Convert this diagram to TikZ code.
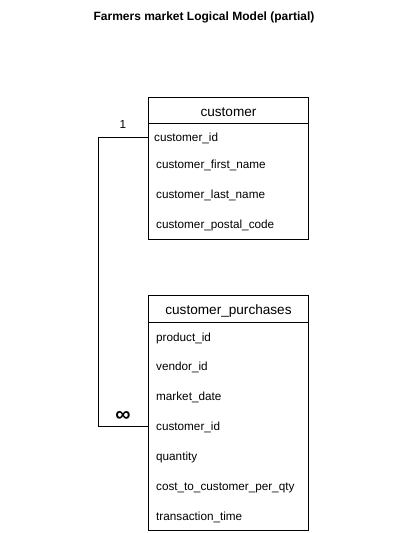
\documentclass[tikz,border=0pt]{standalone}
\usepackage{fontspec}
\setmainfont{Liberation Sans}

\begin{document}
\begin{tikzpicture}[x=0.75pt, y=-0.75pt, line width=0.75pt,
  tbl/.style={draw, anchor=north west, minimum width=120pt, inner sep=0pt},
  header/.style={anchor=north west, minimum width=120pt, minimum height=#1, inner sep=0pt, yshift=-1.2pt, font=\fontsize{10.2}{12}\selectfont},
  field/.style={anchor=west, text width=108.5pt, inner xsep=5.75pt, inner ysep=2pt, text height=8.2pt, text depth=1.3pt, align=left, font=\fontsize{8.8}{10}\selectfont},
  card/.style={font=\fontsize{8.8}{10}\selectfont}]

\useasboundingbox (0,0) rectangle (407,533);

% Title
\node [font=\bfseries\fontsize{9}{11}\selectfont] (title) at (204,17) {Farmers market Logical Model (partial)};

% Table customer
\node [tbl, minimum height=106.5pt] (customer) at (148,97) {};
\node [header=19.5pt] (customerhead) at (148,97) {customer};
\draw (customer.north west) ++(0,-19.5pt) -- ++(120pt,0);
\node [field, inner xsep=4.25pt, text width=111.5pt] (c_id) at (148,137) {customer\_id};
\node [field] (c_first) at (148,164) {customer\_first\_name};
\node [field] (c_last)  at (148,194) {customer\_last\_name};
\node [field] (c_post)  at (148,224) {customer\_postal\_code};

% Table customer_purchases
\node [tbl, minimum height=176.25pt] (purchases) at (148,295) {};
\node [header=20.25pt] (purchaseshead) at (148,295) {customer\_purchases};
\draw (purchases.north west) ++(0,-20.25pt) -- ++(120pt,0);
\node [field] (p_prod)   at (148,337) {product\_id};
\node [field] (p_vendor) at (148,366) {vendor\_id};
\node [field] (p_date)   at (148,396) {market\_date};
\node [field] (p_cid)    at (148,426) {customer\_id};
\node [field] (p_qty)    at (148,456) {quantity};
\node [field] (p_cost)   at (148,486) {cost\_to\_customer\_per\_qty};
\node [field] (p_time)   at (148,516) {transaction\_time};

% Relation 1 -- many
\coordinate (bendtop) at (98,137);
\coordinate (bendbot) at (98,426);
\draw (c_id.west) -- (bendtop) -- (bendbot) -- (p_cid.west);
\node [card] (one)  at (123,124) {1};
\node [font=\bfseries\fontsize{16}{16}\selectfont] (many) at (123,416) {∞};

\end{tikzpicture}
\end{document}
